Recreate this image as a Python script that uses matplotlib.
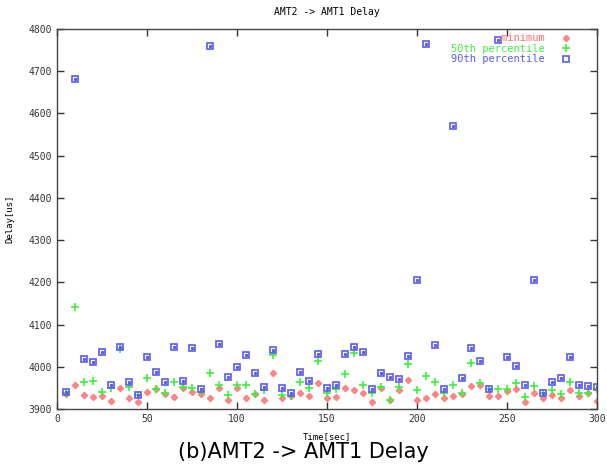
import matplotlib
matplotlib.use("Agg")
import matplotlib.pyplot as plt
import numpy as np

# time axis (sec) -- one sample every 5 s
time_sec = list(range(5, 301, 5))

minimum = [3935, 3956, 3932, 3928, 3930, 3920, 3950, 3926, 3916, 3941,
           3947, 3935, 3928, 3949, 3941, 3935, 3926, 3950, 3922, 3950,
           3926, 3935, 3922, 3985, 3927, 3930, 3939, 3930, 3961, 3927,
           3928, 3949, 3944, 3937, 3916, 3950, 3921, 3944, 3968, 3922,
           3927, 3935, 3925, 3930, 3935, 3954, 3958, 3930, 3930, 3943,
           3948, 3916, 3937, 3926, 3932, 3926, 3946, 3930, 3939, 3920]

p50 = [3939, 4141, 3963, 3966, 3941, 3949, 4043, 3952, 3932, 3973,
       3947, 3939, 3963, 3952, 3950, 3940, 3985, 3958, 3933, 3958,
       3957, 3936, 3944, 4029, 3932, 3931, 3963, 3949, 4014, 3939,
       3947, 3983, 4033, 3958, 3939, 3951, 3921, 3951, 4007, 3944,
       3978, 3963, 3937, 3958, 3937, 4009, 3962, 3947, 3947, 3947,
       3961, 3928, 3954, 3939, 3945, 3936, 3963, 3939, 3939, 3947]

p90 = [3941, 4681, 4018, 4011, 4035, 3956, 4048, 3963, 3932, 4024,
       3987, 3963, 4048, 3966, 4044, 3947, 4760, 4055, 3976, 3999,
       4029, 3985, 3952, 4039, 3950, 3939, 3987, 3966, 4031, 3950,
       3957, 4030, 4048, 4035, 3948, 3985, 3976, 3970, 4026, 4205,
       4764, 4051, 3947, 4570, 3974, 4044, 4013, 3947, 4775, 4022,
       4002, 3956, 4205, 3939, 3963, 3974, 4022, 3958, 3954, 3951]

labels = ["minimum", "50th percentile", "90th percentile"]
colors = ["#ff7070", "#3cf03c", "#5a5af0"]

mono = "DejaVu Sans Mono"

fig = plt.figure(figsize=(6.07, 4.65), dpi=100)
ax = fig.add_axes([57 / 607, 56 / 465, 540 / 607, 380 / 465])

ax.plot(time_sec, minimum, linestyle="none", marker="D", markersize=3.2,
        color=colors[0], alpha=0.8, label=labels[0].rjust(15))
ax.plot(time_sec, p50, linestyle="none", marker="+", markersize=6,
        markeredgewidth=1.2, color=colors[1], label=labels[1].rjust(15))
ax.plot(time_sec, p90, linestyle="none", marker="s", markersize=4.6,
        markerfacecolor="none", markeredgewidth=1.2, color=colors[2],
        label=labels[2].rjust(15))
ax.plot(time_sec, p90, linestyle="none", marker="s", markersize=1.2,
        color=colors[2])

ax.set_xlim(0, 300)
ax.set_ylim(3900, 4800)
ax.set_xticks(np.arange(0, 301, 50))
ax.set_yticks(np.arange(3900, 4801, 100))

ax.tick_params(direction="in", length=5, width=1, top=True, right=True,
               labelsize=7, colors="#333333")
for lbl in ax.get_xticklabels() + ax.get_yticklabels():
    lbl.set_family(mono)
for sp in ax.spines.values():
    sp.set_color("#444444")
    sp.set_linewidth(1.0)

ax.set_title("AMT2 -> AMT1 Delay", fontsize=7, family=mono, pad=10)
ax.set_xlabel("Time[sec]", fontsize=6.5, family=mono, labelpad=6)
ax.set_ylabel("Delay[us]", fontsize=6.5, family=mono, labelpad=10)

leg = ax.legend(loc="upper right", bbox_to_anchor=(0.97, 1.008),
                markerfirst=False, frameon=False,
                prop={"family": mono, "size": 7.5}, labelcolor="linecolor",
                handletextpad=1.3, borderaxespad=0.3, labelspacing=0.05,
                handlelength=1.5)

fig.text(0.5, 0.028, "(b)AMT2 -> AMT1 Delay", ha="center", va="center",
         fontsize=15, family=["Liberation Sans Narrow", "DejaVu Sans"])

fig.savefig("out.png", dpi=100)
